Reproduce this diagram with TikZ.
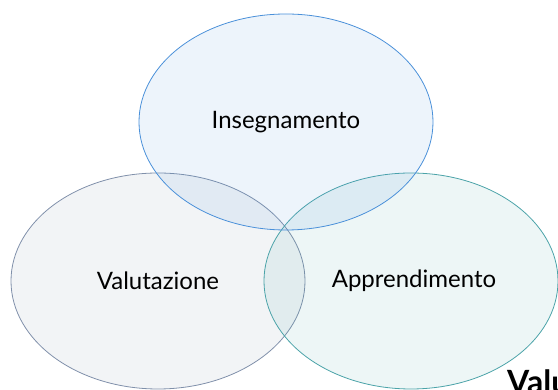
\documentclass[tikz,border=0pt]{standalone}
\usepackage{fontspec}
\setmainfont{Lato}
\usepackage{tikz}
\usetikzlibrary{shapes.geometric, positioning}
\definecolor{insblu}{RGB}{74,144,217}
\definecolor{valgry}{RGB}{128,144,170}
\definecolor{appteal}{RGB}{75,163,168}
\tikzset{circ/.style={ellipse, minimum width=294pt, minimum height=216pt, line width=0.8pt, fill opacity=0.1, text opacity=1, font=\fontsize{24}{28}\selectfont}}

\begin{document}
\begin{tikzpicture}[x=1pt, y=1pt]
		\useasboundingbox (0,0) rectangle (558,390);
		\node[circ, draw=valgry, fill=valgry] (V1) at (158,109) {\raisebox{-4pt}{Valutazione}};
		\node[circ, draw=appteal, fill=appteal] (A1) at (411,109) {\hspace{6pt}\raisebox{-4pt}{Apprendimento}};
		\node[circ, draw=insblu, fill=insblu] (I1) at (286,268) {\raisebox{-3pt}{Insegnamento}};
		%\node at (286,20){ciclo};
		\node[anchor=base west, inner sep=0pt, font=\fontsize{32}{36}\selectfont\bfseries] (T1) at (507,-4) {Valu};
\end{tikzpicture}
\end{document}
